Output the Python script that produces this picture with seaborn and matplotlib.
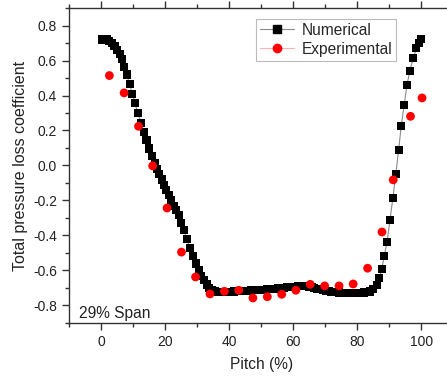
import matplotlib
matplotlib.use("Agg")
import matplotlib.pyplot as plt
from matplotlib.lines import Line2D
from matplotlib.ticker import MultipleLocator
import seaborn as sns
import pandas as pd

# Numerical (CFD) total pressure loss coefficient along the pitch
num_pitch = [
    0.3, 1.0, 1.8, 2.5, 3.3, 4.2, 5.0, 5.8, 6.5, 7.3, 8.0, 8.9, 9.8, 10.6,
    11.5, 12.5, 13.3, 14.2, 15.1, 15.9, 16.7, 17.5, 18.2, 18.9, 19.7, 20.4,
    21.1, 21.8, 22.6, 23.4, 24.2, 25.0, 25.9, 26.7, 27.7, 28.6, 29.5, 30.5,
    31.3, 32.1, 33.0, 33.8, 34.6, 35.5,
    36.3, 37.2, 38.0, 38.9, 39.8, 40.6, 41.5, 42.4, 43.2, 44.1, 45.0, 45.8,
    46.7, 47.6, 48.4, 49.3, 50.2, 51.0, 51.9, 52.8, 53.6, 54.5, 55.4, 56.2,
    57.1, 58.0, 58.8, 59.7, 60.6, 61.4, 62.3, 63.2, 64.0, 64.9, 65.8, 66.6,
    67.5, 68.4, 69.2, 70.1, 71.0, 71.8, 72.7, 73.6, 74.4, 75.3, 76.2, 77.0,
    77.9, 78.8, 79.6, 80.5, 81.4, 82.2, 83.1, 84.0,
    85.0, 86.0, 86.8, 87.6, 88.4, 89.3, 90.2, 91.1, 92.0, 92.9, 93.7, 94.6,
    95.5, 96.4, 97.5, 98.4, 99.3, 100.0,
]
num_loss = [
    0.720, 0.722, 0.720, 0.712, 0.700, 0.682, 0.660, 0.635, 0.610, 0.565,
    0.520, 0.465, 0.410, 0.355, 0.300, 0.245, 0.190, 0.145, 0.097, 0.055,
    0.015, -0.020, -0.050, -0.080, -0.110, -0.140, -0.170, -0.200, -0.230,
    -0.255, -0.285, -0.330, -0.370, -0.420, -0.470, -0.515, -0.560, -0.600,
    -0.630, -0.655, -0.680, -0.700, -0.710, -0.718,
    -0.722, -0.724, -0.724, -0.723, -0.722, -0.721, -0.720, -0.719, -0.718,
    -0.717, -0.716, -0.715, -0.714, -0.713, -0.712, -0.711, -0.710, -0.709,
    -0.708, -0.707, -0.706, -0.704, -0.702, -0.700, -0.698, -0.696, -0.694,
    -0.693, -0.692, -0.691, -0.690, -0.690, -0.691, -0.693, -0.696, -0.700,
    -0.704, -0.708, -0.712, -0.715, -0.718, -0.721, -0.723, -0.725, -0.726,
    -0.727, -0.728, -0.728, -0.728, -0.728, -0.728, -0.727, -0.727, -0.726,
    -0.724, -0.720,
    -0.707, -0.682, -0.645, -0.594, -0.517, -0.435, -0.310, -0.185, -0.051,
    0.091, 0.225, 0.344, 0.460, 0.542, 0.615, 0.669, 0.702, 0.722,
]

# Experimental measurements
exp_pitch = [2.6, 7.2, 11.7, 16.1, 20.6, 25.1, 29.5, 34.0, 38.5, 43.0, 47.4,
             51.9, 56.4, 60.8, 65.3, 69.8, 74.3, 78.7, 83.2, 87.7, 91.2, 96.6,
             100.2]
exp_loss = [0.514, 0.415, 0.224, -0.002, -0.243, -0.495, -0.637, -0.734,
            -0.719, -0.713, -0.757, -0.750, -0.736, -0.713, -0.679, -0.688,
            -0.688, -0.677, -0.587, -0.380, -0.082, 0.281, 0.386]

span_label = "29% Span"

num_df = pd.DataFrame({"pitch": num_pitch, "loss": num_loss})
exp_df = pd.DataFrame({"pitch": exp_pitch, "loss": exp_loss})

sns.set_style("ticks")
plt.rcParams["font.family"] = ["Liberation Sans", "DejaVu Sans"]

fig = plt.figure(figsize=(4.47, 3.76), dpi=100)
ax = fig.add_axes([0.1544, 0.141, 0.86, 0.8377])

sns.lineplot(data=num_df, x="pitch", y="loss", color="#8a8a8a", lw=0.8,
             sort=False, ax=ax, zorder=2)
sns.scatterplot(data=num_df, x="pitch", y="loss", marker="s", color="black",
                s=34, edgecolor="none", ax=ax, zorder=3)
sns.scatterplot(data=exp_df, x="pitch", y="loss", marker="o", color="#ff0000",
                s=40, edgecolor="none", ax=ax, zorder=4)

ax.set_xlim(-10, 110)
ax.set_ylim(-0.9, 0.9)
ax.xaxis.set_major_locator(MultipleLocator(20))
ax.xaxis.set_minor_locator(MultipleLocator(10))
ax.yaxis.set_major_locator(MultipleLocator(0.2))
ax.yaxis.set_minor_locator(MultipleLocator(0.1))
ax.yaxis.set_major_formatter(matplotlib.ticker.FuncFormatter(
    lambda v, p: f"{v:.1f}".replace("-0.0", "0.0")))

for side in ["left", "bottom", "top", "right"]:
    ax.spines[side].set_visible(True)
    ax.spines[side].set_color("#333333")
    ax.spines[side].set_linewidth(1.0)

ax.tick_params(which="major", direction="out", length=5, width=1,
               color="#333333", labelsize=10, labelcolor="#222222",
               top=True, right=True, labeltop=False)
ax.tick_params(which="minor", direction="out", length=3, width=1,
               color="#333333", top=True, right=True)

ax.set_xlabel("Pitch (%)", fontsize=11.2, color="#222222", labelpad=6)
ax.set_ylabel("Total pressure loss coefficient", fontsize=11.5,
              color="#222222", labelpad=4)

ax.text(0.026, 0.006, span_label, transform=ax.transAxes, fontsize=11.2,
        ha="left", va="bottom", color="#222222")

handles = [
    Line2D([], [], color="#8a8a8a", lw=0.8, marker="s", markersize=5.5,
           markerfacecolor="black", markeredgecolor="black"),
    Line2D([], [], color="#ffb0b0", lw=0.8, marker="o", markersize=6,
           markerfacecolor="#ff0000", markeredgecolor="#ff0000"),
]
leg = ax.legend(handles, ["Numerical", "Experimental"], loc="upper left",
                bbox_to_anchor=(0.4856, 0.965), borderaxespad=0,
                fontsize=11.2, frameon=True, fancybox=False, handlelength=2.2,
                handletextpad=0.5, borderpad=0.25, labelspacing=0.25)
leg.get_frame().set_edgecolor("#aaaaaa")
leg.get_frame().set_linewidth(0.8)

fig.savefig("out.png", dpi=100)
